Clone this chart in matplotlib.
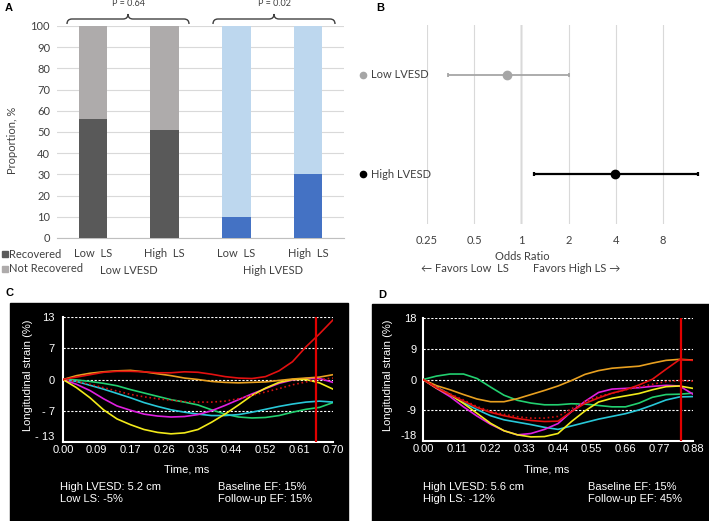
import numpy as np
import matplotlib
matplotlib.use("Agg")
import matplotlib.pyplot as plt
from matplotlib.path import Path
from matplotlib.patches import PathPatch, Rectangle

# ---------------- data ----------------
# Panel A
bar_labels = ["Low  LS", "High  LS", "Low  LS", "High  LS"]
group_labels = ["Low LVESD", "High LVESD"]
recovered = [56, 51, 10, 30]
not_recovered = [44, 49, 90, 70]
p_values = ["P = 0.64", "P = 0.02"]

# Panel B
or_labels = ["Low LVESD", "High LVESD"]
or_values = [0.81, 3.97]
or_lower = [0.34, 1.2]
or_upper = [2.0, 13.4]
or_ticks = [0.25, 0.5, 1, 2, 4, 8]
or_ticklabels = ["0.25", "0.5", "1", "2", "4", "8"]

# Panel C
t_c = [0, .035, .07, .105, .14, .175, .21, .245, .28, .315, .35, .385, .42,
       .455, .49, .525, .56, .595, .63, .665, .70]
c_yellow = [0, -1.7, -3.8, -6.3, -8.2, -9.4, -10.4, -11.0, -11.3, -11.1, -10.4,
            -8.9, -7.2, -5.3, -3.3, -1.8, -0.6, 0, 0, -0.7, -2.0]
c_red = [0, 0.5, 1.0, 1.5, 1.7, 1.7, 1.6, 1.4, 1.4, 1.6, 1.5, 1.1, 0.6, 0.3,
         0.2, 0.6, 1.8, 3.7, 6.8, 9.5, 12.4]
c_orange = [0, 0.8, 1.3, 1.6, 1.8, 1.9, 1.6, 1.2, 0.8, 0.3, 0, -0.4, -0.6,
            -0.7, -0.6, -0.5, -0.2, 0.1, 0.3, 0.5, 1.0]
c_magenta = [0, -1.0, -2.3, -4.0, -5.5, -6.4, -7.2, -7.6, -7.8, -7.7, -7.3,
             -6.5, -5.4, -4.2, -3.0, -1.9, -0.8, -0.1, 0.2, 0.2, -0.6]
c_cyan = [0, -0.4, -1.2, -2.0, -2.9, -3.8, -4.8, -5.6, -6.3, -6.8, -7.2, -7.5,
          -7.5, -7.3, -6.8, -6.2, -5.6, -5.1, -4.7, -4.5, -4.7]
c_green = [0, -0.1, -0.4, -0.8, -1.3, -2.1, -2.8, -3.5, -4.2, -4.7, -5.3, -6.3,
           -7.2, -7.8, -8.0, -7.9, -7.5, -6.8, -6.2, -5.8, -4.8]
c_avg = [0, -0.4, -1.0, -1.7, -2.4, -3.1, -3.6, -4.0, -4.3, -4.6, -4.7, -4.7,
         -4.5, -4.0, -3.3, -2.6, -1.9, -1.1, -0.5, 0, 0.3]
c_marker_t = 0.655
c_xticklabels = ["0.00", "0.09", "0.17", "0.26", "0.35", "0.44", "0.52", "0.61", "0.70"]
c_yticklabels = ["- 13", "- 7", "0", "7", "13"]
c_text = ["High LVESD: 5.2 cm", "Low LS: -5%", "Baseline EF: 15%", "Follow-up EF: 15%"]

# Panel D
t_d = [0, .044, .088, .132, .176, .22, .264, .308, .352, .396, .44, .484, .528,
       .572, .616, .66, .704, .748, .792, .836, .88]
d_green = [0, 1.0, 1.6, 1.6, 0.3, -2.2, -4.6, -6.1, -6.9, -7.4, -7.4, -7.1,
           -7.2, -7.6, -8.0, -8.0, -6.9, -5.2, -4.4, -4.3, -4.0]
d_orange = [0, -1.8, -3.0, -4.4, -5.7, -6.5, -6.5, -5.6, -4.4, -3.2, -1.9, -0.3,
            1.5, 2.6, 3.3, 3.6, 3.9, 4.8, 5.6, 5.9, 5.7]
d_red = [0, -2.4, -4.4, -6.3, -8.2, -9.6, -10.6, -11.4, -12.0, -12.3, -12.2,
         -9.4, -7.0, -5.4, -4.0, -3.0, -1.6, 0.1, 3.0, 5.8, 5.6]
d_avg = [0, -2.2, -4.2, -6.0, -7.9, -9.3, -10.2, -10.9, -11.3, -11.3, -10.8,
         -8.6, -6.4, -5.0, -4.0, -3.0, -2.2, -1.4, -0.6, -0.3, -0.5]
d_yellow = [0, -2.5, -4.4, -7.0, -9.9, -12.8, -15.0, -16.2, -16.8, -16.7, -15.8,
            -12.3, -9.2, -6.6, -5.5, -4.8, -4.1, -3.0, -2.1, -1.9, -2.6]
d_magenta = [0, -2.6, -5.0, -8.0, -10.7, -13.1, -15.0, -16.2, -15.8, -14.6,
             -12.9, -9.4, -6.4, -3.8, -2.8, -2.6, -2.4, -2.0, -1.7, -1.9, -4.3]
d_cyan = [0, -2.2, -4.4, -6.8, -8.8, -10.6, -11.8, -12.5, -13.2, -14.0, -14.6,
          -13.6, -12.6, -11.6, -10.8, -10.0, -8.9, -7.5, -6.0, -5.1, -5.0]
d_marker_t = 0.841
d_xticklabels = ["0.00", "0.11", "0.22", "0.33", "0.44", "0.55", "0.66", "0.77", "0.88"]
d_yticklabels = ["-18", "-9", "0", "9", "18"]
d_text = ["High LVESD: 5.6 cm", "High LS: -12%", "Baseline EF: 15%", "Follow-up EF: 45%"]

# ---------------- figure ----------------
W, H = 709, 521
fig = plt.figure(figsize=(W / 100, H / 100), dpi=100)
SANS_A = ["Lato", "DejaVu Sans"]
SANS_C = ["Liberation Sans", "DejaVu Sans"]
FA = 8
GREY_T = "#404040"


def frac(x0, y0, x1, y1):
    return [x0 / W, 1 - y1 / H, (x1 - x0) / W, (y1 - y0) / H]


bg = fig.add_axes([0, 0, 1, 1], zorder=-10)
bg.set_xlim(0, W)
bg.set_ylim(H, 0)
bg.axis("off")

# black panels
bg.add_patch(Rectangle((10, 303), 338, 218, color="black"))
bg.add_patch(Rectangle((372, 304), 337, 217, color="black"))

ov = fig.add_axes([0, 0, 1, 1], zorder=10)
ov.set_xlim(0, W)
ov.set_ylim(H, 0)
ov.axis("off")
ov.patch.set_alpha(0)

# panel letters
for lab, x, y in [("A", 5, 8), ("B", 376, 8), ("C", 5, 293), ("D", 378, 295)]:
    ov.text(x, y, lab, fontsize=8, fontweight="bold", family=SANS_C,
            ha="left", va="center", color="black")

# ---------- Panel A ----------
axA = fig.add_axes(frac(57, 26, 344, 238))
axA.patch.set_alpha(0)
xpos = np.arange(len(recovered))
rec_colors = ["#595959", "#595959", "#4472C4", "#4472C4"]
not_colors = ["#AEABAB", "#AEABAB", "#BDD7EE", "#BDD7EE"]
axA.bar(xpos, recovered, width=0.4, color=rec_colors, zorder=3)
axA.bar(xpos, not_recovered, width=0.4, bottom=recovered, color=not_colors, zorder=3)
axA.set_xlim(-0.5, 3.5)
axA.set_ylim(0, 100)
axA.set_yticks(range(0, 101, 10))
axA.yaxis.grid(True, color="#D9D9D9", lw=0.8, zorder=0)
for s in ["top", "right", "left"]:
    axA.spines[s].set_visible(False)
axA.spines["bottom"].set_color("#BFBFBF")
axA.set_xticks(xpos)
axA.set_xticklabels(bar_labels)
axA.tick_params(axis="both", length=0, labelsize=FA, colors=GREY_T)
axA.tick_params(axis="x", pad=7)
axA.tick_params(axis="y", pad=5)
for lbl in axA.get_xticklabels() + axA.get_yticklabels():
    lbl.set_family(SANS_A)
ov.text(12, 140, "Proportion, %", rotation=90, fontsize=FA, family=SANS_A,
        color=GREY_T, ha="center", va="center")
ov.text(129, 271, group_labels[0], fontsize=FA, family=SANS_A, color=GREY_T,
        ha="center", va="center")
ov.text(273, 271, group_labels[1], fontsize=FA, family=SANS_A, color=GREY_T,
        ha="center", va="center")
ov.plot([5], [254], marker="s", ms=4.5, color="#595959", ls="none")
ov.plot([5], [269], marker="s", ms=4.5, color="#AEABAB", ls="none")
ov.text(9, 254, "Recovered", fontsize=FA, family=SANS_A, color=GREY_T,
        ha="left", va="center")
ov.text(9, 269, "Not Recovered", fontsize=FA, family=SANS_A, color=GREY_T,
        ha="left", va="center")


def brace(ax, x0, x1, y, h):
    xm = (x0 + x1) / 2
    r = h / 2
    verts = [(x0, y), (x0, y - r), (x0 + r, y - r),
             (xm - r, y - r), (xm, y - r), (xm, y - 2 * r),
             (xm, y - r), (xm + r, y - r),
             (x1 - r, y - r), (x1, y - r), (x1, y)]
    codes = [Path.MOVETO, Path.CURVE3, Path.CURVE3,
             Path.LINETO, Path.CURVE3, Path.CURVE3,
             Path.CURVE3, Path.CURVE3,
             Path.LINETO, Path.CURVE3, Path.CURVE3]
    ax.add_patch(PathPatch(Path(verts, codes), fill=False, lw=1.0, color=GREY_T))


brace(ov, 67, 189, 24, 10)
brace(ov, 213, 335, 24, 10)
ov.text(128, 3, p_values[0], fontsize=6.5, family=SANS_A, color=GREY_T, ha="center", va="center")
ov.text(274, 3, p_values[1], fontsize=6.5, family=SANS_A, color=GREY_T, ha="center", va="center")

# ---------- Panel B ----------
axB = fig.add_axes(frac(427, 25, 702, 224))
axB.patch.set_alpha(0)
axB.set_xscale("log", base=2)
axB.set_xlim(0.25, 2 ** 3.83)
axB.set_ylim(0.5, 2.5)
for s in axB.spines.values():
    s.set_visible(False)
axB.set_xticks(or_ticks)
axB.set_xticklabels(or_ticklabels)
axB.minorticks_off()
axB.xaxis.grid(True, color="#D9D9D9", lw=0.8, zorder=0)
axB.axvline(1, color="#A6A6A6", lw=1.0, zorder=1)
ypos = [2, 1]
colsB = ["#A6A6A6", "black"]
lwsB = [1.3, 1.6]
for i in range(2):
    axB.errorbar([or_values[i]], [ypos[i]],
                 xerr=[[or_values[i] - or_lower[i]], [or_upper[i] - or_values[i]]],
                 fmt="o", color=colsB[i], ms=6, lw=lwsB[i], capsize=1.5,
                 capthick=lwsB[i], zorder=3)
axB.set_yticks([])
axB.tick_params(axis="both", length=0, labelsize=FA, colors=GREY_T)
axB.tick_params(axis="x", pad=8)
for lbl in axB.get_xticklabels():
    lbl.set_family(SANS_A)
for i in range(2):
    axB.plot([-0.233], [ypos[i]], marker="o", ms=4.5, color=colsB[i],
             transform=axB.get_yaxis_transform(), clip_on=False, ls="none")
    axB.text(-0.205, ypos[i], or_labels[i], transform=axB.get_yaxis_transform(),
             fontsize=FA, family=SANS_A, color=GREY_T, ha="left", va="center")
ov.text(522, 257, "Odds Ratio", fontsize=FA, family=SANS_A, color=GREY_T,
        ha="center", va="center")
ov.text(465, 269, "\u2190 Favors Low  LS", fontsize=FA, family=SANS_A,
        color=GREY_T, ha="center", va="center")
ov.text(577, 269, "Favors High LS \u2192", fontsize=FA, family=SANS_A,
        color=GREY_T, ha="center", va="center")


# ---------- Panels C & D ----------
def strain_panel(rect, t, series, ymax, marker_t, xlabels, ylabels, ypad):
    ax = fig.add_axes(rect)
    ax.set_facecolor("black")
    ax.set_xlim(0, t[-1])
    ax.set_ylim(-ymax, ymax)
    for yv in [ymax, ymax / 2, 0, -ymax / 2]:
        ax.axhline(yv, color="white", lw=0.8, ls=(0, (2, 1.5)), zorder=1)
    for vals, col, ls in series:
        ax.plot(t, vals, color=col, lw=1.2, ls=ls, zorder=3)
    ax.axvline(marker_t, color="#E00000", lw=1.6, zorder=4)
    for s in ["top", "right"]:
        ax.spines[s].set_visible(False)
    for s in ["left", "bottom"]:
        ax.spines[s].set_color("white")
        ax.spines[s].set_linewidth(1.5)
    ax.set_xticks(np.linspace(0, t[-1], len(xlabels)))
    ax.set_xticklabels(xlabels)
    ax.set_yticks(np.linspace(-ymax, ymax, len(ylabels)))
    ax.set_yticklabels(ylabels)
    ax.tick_params(axis="both", length=0, labelsize=8, colors="white")
    ax.tick_params(axis="x", pad=2)
    ax.tick_params(axis="y", pad=ypad)
    for lbl in ax.get_xticklabels() + ax.get_yticklabels():
        lbl.set_family(SANS_C)
    ax.get_yticklabels()[0].set_va("bottom")
    return ax


RED, ORANGE, YELLOW = "#E31010", "#E8A020", "#F2EA1A"
MAGENTA, CYAN, GREEN = "#E020E0", "#28C8D8", "#22D070"

axC = strain_panel(frac(63, 317, 333, 442), t_c,
                   [(c_green, GREEN, "-"), (c_cyan, CYAN, "-"), (c_magenta, MAGENTA, "-"),
                    (c_yellow, YELLOW, "-"), (c_orange, ORANGE, "-"),
                    (c_avg, "#D01010", ":"), (c_red, RED, "-")],
                   13, c_marker_t, c_xticklabels, c_yticklabels, 6)
axD = strain_panel(frac(423, 318, 693, 441), t_d,
                   [(d_green, GREEN, "-"), (d_cyan, CYAN, "-"), (d_magenta, MAGENTA, "-"),
                    (d_yellow, YELLOW, "-"), (d_orange, ORANGE, "-"),
                    (d_avg, "#D01010", ":"), (d_red, RED, "-")],
                   18, d_marker_t, d_xticklabels, d_yticklabels, 4.5)

for (xl, xc, xt1, xt2, texts) in [(28, 187, 60, 218, c_text), (388, 547, 423, 588, d_text)]:
    ov.text(xl, 375, "Longitudinal strain (%)", rotation=90, fontsize=8, family=SANS_C,
            color="white", ha="center", va="center")
    ov.text(xc, 469, "Time, ms", fontsize=8, family=SANS_C, color="white",
            ha="center", va="center")
    ov.text(xt1, 487, texts[0], fontsize=8, family=SANS_C, color="white", ha="left", va="center")
    ov.text(xt1, 499, texts[1], fontsize=8, family=SANS_C, color="white", ha="left", va="center")
    ov.text(xt2, 487, texts[2], fontsize=8, family=SANS_C, color="white", ha="left", va="center")
    ov.text(xt2, 499, texts[3], fontsize=8, family=SANS_C, color="white", ha="left", va="center")

fig.savefig("out.png", dpi=100, facecolor="white")
